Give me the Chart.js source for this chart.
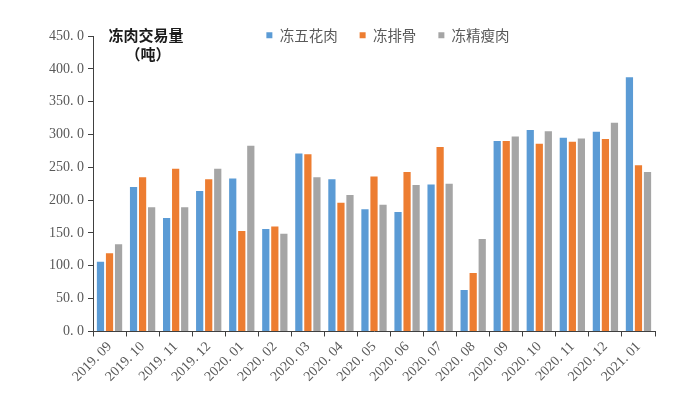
<!DOCTYPE html>
<html>
<head>
<meta charset="utf-8">
<script src="https://cdn.jsdelivr.net/npm/chart.js@4.4.1/dist/chart.umd.min.js"></script>
<style>
  html, body { margin: 0; padding: 0; background: #ffffff; }
  #wrap { width: 700px; height: 398px; position: relative; }
</style>
</head>
<body>
<div id="wrap"><canvas id="c" width="700" height="398"></canvas></div>
<script>
const categories = ['2019. 09','2019. 10','2019. 11','2019. 12','2020. 01','2020. 02','2020. 03','2020. 04','2020. 05','2020. 06','2020. 07','2020. 08','2020. 09','2020. 10','2020. 11','2020. 12','2021. 01'];
const seriesNames = ['冻五花肉', '冻排骨', '冻精瘦肉'];
const porkBelly = [106, 220, 173, 214, 233, 156, 271, 232, 186, 182, 224, 63, 290, 307, 295, 304, 387];
const ribs      = [119, 235, 248, 232, 153, 160, 270, 196, 236, 243, 281, 89, 290, 286, 289, 293, 253];
const leanMeat  = [133, 189, 189, 248, 283, 149, 235, 208, 193, 223, 225, 141, 297, 305, 294, 318, 243];
const yTicks = [0, 50, 100, 150, 200, 250, 300, 350, 400, 450];
const titleLines = ['冻肉交易量', '（吨）'];

const colors = ['#5B9BD5', '#ED7D31', '#A5A5A5'];
const numFont = "'Liberation Serif', 'Noto Sans CJK SC', serif";
const cjkFont = "'Noto Sans CJK SC', sans-serif";
const axisColor = '#404040';
const textColor = '#595959';

const layoutPlugin = {
  id: 'innerTitle',
  beforeLayout(chart) {
    const lg = chart.legend;
    if (lg && !lg._flat) {
      const origFit = lg.fit.bind(lg);
      lg.fit = function () { origFit(); this.height = 0; };
      lg._flat = true;
    }
  },
  afterLayout(chart) {
    const lg = chart.legend;
    if (lg) {
      lg.left += 38; lg.right += 38;
      lg.top = 6; lg.bottom = 50; lg.height = 44;
    }
  },
  afterDraw(chart) {
    const ctx = chart.ctx;
    const a = chart.chartArea;
    ctx.save();
    ctx.fillStyle = '#1a1a1a';
    ctx.font = "bold 15px " + cjkFont;
    ctx.textAlign = 'center';
    ctx.textBaseline = 'middle';
    ctx.fillText(titleLines[0], a.left + 53, a.top - 1);
    ctx.fillText(titleLines[1], a.left + 55, a.top + 18);
    ctx.restore();
  }
};

new Chart(document.getElementById('c'), {
  type: 'bar',
  data: {
    labels: categories,
    datasets: [
      { label: seriesNames[0], data: porkBelly, backgroundColor: colors[0] },
      { label: seriesNames[1], data: ribs, backgroundColor: colors[1] },
      { label: seriesNames[2], data: leanMeat, backgroundColor: colors[2] }
    ]
  },
  options: {
    responsive: false,
    animation: false,
    devicePixelRatio: 1,
    categoryPercentage: 0.82,
    barPercentage: 0.8,
    layout: { padding: { left: 45, right: 45, top: 36, bottom: 11 } },
    plugins: {
      tooltip: { enabled: false },
      legend: {
        position: 'top',
        align: 'center',
        labels: {
          boxWidth: 6,
          boxHeight: 6,
          padding: 22,
          color: textColor,
          font: { family: cjkFont, size: 14.5 }
        }
      }
    },
    scales: {
      x: {
        grid: { display: true, drawOnChartArea: false, drawTicks: true, tickLength: 5, color: axisColor, offset: true },
        border: { display: true, color: axisColor, width: 1 },
        ticks: {
          color: textColor,
          font: { family: numFont, size: 14 },
          minRotation: 45,
          maxRotation: 45,
          autoSkip: false,
          padding: 2
        }
      },
      y: {
        min: 0,
        max: 450,
        afterBuildTicks(scale) { scale.ticks = yTicks.map(v => ({ value: v })); },
        grid: { display: true, drawOnChartArea: false, drawTicks: true, tickLength: 5, color: axisColor },
        border: { display: true, color: axisColor, width: 1 },
        ticks: {
          color: textColor,
          font: { family: numFont, size: 14 },
          padding: 4,
          callback: (v) => Number(v).toFixed(1).replace('.', '. ')
        }
      }
    }
  },
  plugins: [layoutPlugin]
});
</script>
</body>
</html>
